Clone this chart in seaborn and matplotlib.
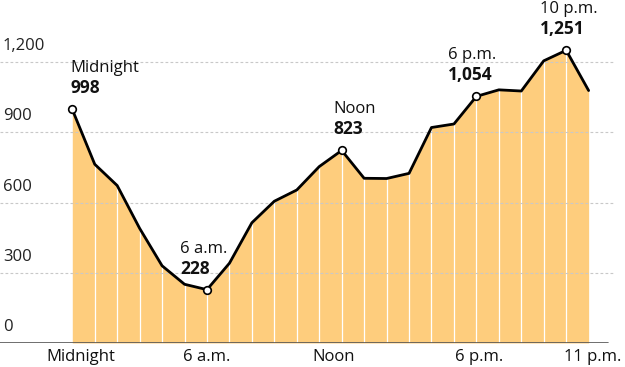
import matplotlib
matplotlib.use("Agg")
import matplotlib.pyplot as plt
import matplotlib.transforms as mtransforms
import pandas as pd
import seaborn as sns

# hourly values, midnight .. 11 p.m.
hours = list(range(24))
values = [998, 764, 673, 490, 330, 251, 228, 341, 514, 606, 654, 754,
          823, 704, 703, 725, 921, 936, 1054, 1082, 1077, 1206, 1251, 1079]

tick_hours = [0, 6, 12, 18, 23]
tick_labels = ["Midnight", "6 a.m.", "Noon", "6 p.m.", "11 p.m."]
tick_nudge = [9, 0, -8, 3, 4]  # px

y_ticks = [0, 300, 600, 900, 1200]
y_labels = ["0", "300", "600", "900", "1,200"]

callout_hours = [0, 6, 12, 18, 22]
callout_names = ["Midnight", "6 a.m.", "Noon", "6 p.m.", "10 p.m."]
callout_text = ["998", "228", "823", "1,054", "1,251"]
callout_dx = [-2, -27, -8, -28, -26]  # px

df = pd.DataFrame({"hour": hours, "value": values})

sns.set_style("white")
plt.rcParams["font.family"] = ["Open Sans", "DejaVu Sans"]

fig = plt.figure(figsize=(6.25, 3.67), dpi=100)
ax = fig.add_axes([0, 24 / 367, 1, 343 / 367])

fill_col = "#FECD7D"
ax.fill_between(df["hour"], 0, df["value"], color=fill_col, lw=0, zorder=1)
ax.vlines(df["hour"][1:-1], 0, df["value"][1:-1], color="white", lw=0.9, zorder=2)

for yt, lab in zip(y_ticks, y_labels):
    if yt > 0:
        ax.axhline(yt, xmin=0, xmax=615 / 625, color="#c8c8c8", lw=0.8,
                   ls=(0, (2.5, 2)), zorder=3)
    ax.annotate(lab, (0, yt), xycoords=("axes fraction", "data"),
                xytext=(3, 16), textcoords="offset pixels",
                ha="left", va="center", fontsize=12, color="#222222")
ax.axhline(0, xmin=0, xmax=608 / 625, color="#555555", lw=1.2, zorder=4)

sns.lineplot(data=df, x="hour", y="value", color="black", lw=2.0, ax=ax, zorder=5)
cdf = df[df["hour"].isin(callout_hours)]
ax.scatter(cdf["hour"], cdf["value"], s=30, facecolor="white",
           edgecolor="black", linewidth=1.2, zorder=6)
ax.set_xlim(-3.22, 24.62)
ax.set_ylim(0, 1466)
ax.axis("off")

for h, name, txt, dx in zip(callout_hours, callout_names, callout_text, callout_dx):
    v = values[h]
    off_name = mtransforms.offset_copy(ax.transData, fig=fig, x=dx, y=41, units="dots")
    off_val = mtransforms.offset_copy(ax.transData, fig=fig, x=dx, y=21, units="dots")
    ax.text(h, v, name, transform=off_name, ha="left", va="center",
            fontsize=12, color="#111111")
    ax.text(h, v, txt, transform=off_val, ha="left", va="center",
            fontsize=12.5, fontweight="bold", color="#111111")

for h, lab, nd in zip(tick_hours, tick_labels, tick_nudge):
    tr = mtransforms.offset_copy(ax.transData, fig=fig, x=nd, y=-14, units="dots")
    ax.text(h, 0, lab, transform=tr, ha="center", va="center",
            fontsize=12, color="#111111")

fig.savefig("out.png", dpi=100)
